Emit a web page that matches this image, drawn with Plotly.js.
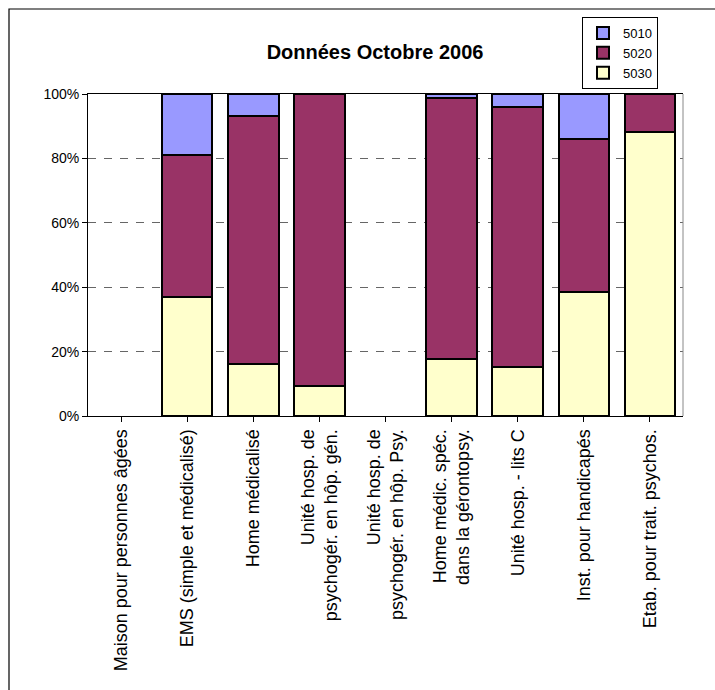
<!DOCTYPE html>
<html>
<head>
<meta charset="utf-8">
<script src="https://cdn.plot.ly/plotly-3.0.1.min.js"></script>
<style>html,body{margin:0;padding:0;background:#fff;}#chart{width:715px;height:690px;}</style>
</head>
<body>
<div id="chart"></div>
<script>
var categories = [
  "Maison pour personnes âgées",
  "EMS (simple et médicalisé)",
  "Home médicalisé",
  "Unité hosp. de<br>psychogér. en hôp. gén.",
  "Unité hosp. de<br>psychogér. en hôp. Psy.",
  "Home médic. spéc.<br>dans la gérontopsy.",
  "Unité hosp. - lits C",
  "Inst. pour handicapés",
  "Etab. pour trait. psychos."
];
var seriesNames = ["5010", "5020", "5030"];
var values5030 = [null, 0.37, 0.16, 0.093, null, 0.176, 0.153, 0.385, 0.883];
var values5020 = [null, 0.44, 0.772, 0.907, null, 0.811, 0.806, 0.474, 0.117];
var values5010 = [null, 0.19, 0.068, 0.0, null, 0.013, 0.041, 0.141, 0.0];
var yTicks = [0, 0.2, 0.4, 0.6, 0.8, 1.0];
var titleText = "Données Octobre 2006";

var idx = categories.map(function(c, i){ return i; });
var font = "Liberation Sans, Arial, sans-serif";

function bar(name, vals, color){
  return {
    type: "bar", name: name, x: idx, y: vals,
    marker: {color: color, line: {color: "#000000", width: 2}},
    hoverinfo: "none"
  };
}

var data = [
  bar(seriesNames[2], values5030, "#FFFFCC"),
  bar(seriesNames[1], values5020, "#993366"),
  bar(seriesNames[0], values5010, "#9999FF")
];

var PL = 88, PR = 683, PT = 94, PB = 416;
var PW = PR - PL, PH = PB - PT;

var layout = {
  width: 715, height: 690,
  margin: {l: PL, r: 715 - PR, t: PT, b: 690 - PB, pad: 0, autoexpand: false},
  paper_bgcolor: "#ffffff", plot_bgcolor: "#ffffff",
  barmode: "stack", bargap: 0.234,
  font: {family: font, color: "#000000"},
  showlegend: true,
  title: {text: "<b>" + titleText + "</b>", font: {family: font, size: 20, color: "#000"},
          x: 375/715, xref: "container", xanchor: "center",
          y: 1 - 52/690, yref: "container", yanchor: "middle"},
  legend: {x: (582 - PL) / PW, y: (PB - 17) / PH, xref: "paper", yref: "paper",
           xanchor: "left", yanchor: "top", traceorder: "reversed",
           bordercolor: "#000000", borderwidth: 1, bgcolor: "#ffffff",
           font: {family: font, size: 13, color: "#000"},
           itemwidth: 30, tracegroupgap: 0},
  xaxis: {
    range: [-0.5, categories.length - 0.5],
    tickmode: "array", tickvals: idx, ticktext: categories,
    tickangle: -90, tickfont: {family: font, size: 18, color: "#000"},
    ticks: "outside", ticklen: 5, tickcolor: "#000", tickson: "boundaries",
    showline: true, linecolor: "#000", linewidth: 1, mirror: true,
    showgrid: false, zeroline: false, fixedrange: true, automargin: false
  },
  yaxis: {
    range: [0, 1], tickmode: "array", tickvals: yTicks, tickformat: ".0%",
    tickfont: {family: font, size: 14, color: "#000"},
    ticks: "outside", ticklen: 5, tickcolor: "#000",
    showline: true, linecolor: "#000", linewidth: 1,
    showgrid: true, gridcolor: "#666666", gridwidth: 1, griddash: "8px,8px",
    zeroline: false, fixedrange: true, automargin: false
  },
  shapes: [
    {type: "rect", xref: "paper", yref: "paper",
     x0: (9 - PL) / PW, x1: (760 - PL) / PW,
     y0: (PB - 760) / PH, y1: (PB - 9) / PH,
     line: {color: "#000000", width: 1.2}, fillcolor: "rgba(0,0,0,0)", layer: "below"},
    {type: "line", xref: "paper", yref: "paper", x0: 1, x1: 1, y0: 0, y1: 1,
     line: {color: "#888888", width: 1}, layer: "above"}
  ]
};

Plotly.newPlot("chart", data, layout, {staticPlot: true, displayModeBar: false});
</script>
</body>
</html>
